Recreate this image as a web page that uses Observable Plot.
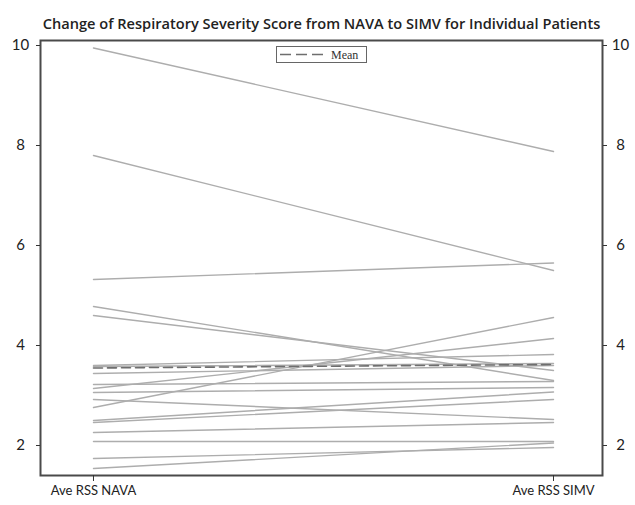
<!DOCTYPE html>
<html><head><meta charset="utf-8">
<script src="https://cdn.jsdelivr.net/npm/d3@7"></script>
<script src="https://cdn.jsdelivr.net/npm/@observablehq/plot@0.6"></script>
<style>
body{margin:0;background:#fff}
#wrap{position:relative;width:635px;height:505px}
#legend{position:absolute;left:276px;top:46px;width:89px;height:15px;border:1px solid #666;background:#fff;font-family:"Liberation Serif",serif;font-size:12px;color:#333}
</style>
</head><body><div id="wrap"></div>
<script>
const title = "Change of Respiratory Severity Score from NAVA to SIMV for Individual Patients";
const conditions = ["Ave RSS NAVA", "Ave RSS SIMV"];
const navaRSS = [9.95, 7.80, 5.32, 4.78, 4.60, 3.60, 3.58, 3.44, 3.22, 3.14, 3.06, 2.92, 2.76, 2.50, 2.46, 2.26, 2.08, 1.74, 1.54];
const simvRSS = [7.88, 5.50, 5.65, 3.30, 3.50, 3.82, 3.64, 3.60, 3.28, 4.14, 3.16, 2.52, 4.56, 3.07, 2.92, 2.46, 2.08, 1.96, 2.05];
const meanRSS = [3.55, 3.62];
const yTicks = [2, 4, 6, 8, 10];
const legendLabel = "Mean";

const rows = navaRSS.flatMap((v, i) => [
  {patient: i, cond: 0, rss: v},
  {patient: i, cond: 1, rss: simvRSS[i]}
]);
const meanRows = meanRSS.map((v, i) => ({cond: i, rss: v}));

const font = "Lato, 'Open Sans', sans-serif";
const chart = Plot.plot({
  width: 635, height: 505,
  marginLeft: 40, marginRight: 33, marginTop: 40, marginBottom: 30,
  style: {fontFamily: font, fontSize: "13px", color: "#222", background: "#fff"},
  x: {domain: [-0.1152, 1.1065]},
  y: {domain: [1.4, 10.1]},
  marks: [
    Plot.line(rows, {x: "cond", y: "rss", z: "patient", stroke: "#adadad", strokeWidth: 1.4}),
    Plot.line(meanRows, {x: "cond", y: "rss", stroke: "#6e6e6e", strokeWidth: 1.6, strokeDasharray: "9,5"}),
    Plot.frame({stroke: "#4a4a4a", strokeWidth: 2}),
    Plot.axisY({anchor: "left", ticks: yTicks, tickSize: 4, tickPadding: 16, textAnchor: "middle", label: null, fontSize: 15, stroke: "#333"}),
    Plot.axisY({anchor: "right", ticks: yTicks, tickSize: 4, tickPadding: 14, textAnchor: "middle", label: null, fontSize: 15, stroke: "#333"}),
    Plot.axisX({anchor: "bottom", ticks: [0, 1], tickFormat: i => conditions[i], tickSize: 6, tickPadding: 4, label: null, fontSize: 13, stroke: "#333"}),
    Plot.text([title], {frameAnchor: "top", dy: -22, text: d => d, fontSize: 14.6, fontWeight: 600, fontFamily: "'Open Sans', sans-serif", fill: "#222"})
  ]
});
const wrap = document.getElementById("wrap");
wrap.appendChild(chart);

const legend = document.createElement("div");
legend.id = "legend";
legend.innerHTML = `<svg width="89" height="15" style="position:absolute;left:0;top:0"><line x1="3" x2="47" y1="7.5" y2="7.5" stroke="#6e6e6e" stroke-width="1.5" stroke-dasharray="11,5"/><text x="54" y="11.5" font-family="Liberation Serif, serif" font-size="12" fill="#333">${legendLabel}</text></svg>`;
wrap.appendChild(legend);
</script>
</body></html>
